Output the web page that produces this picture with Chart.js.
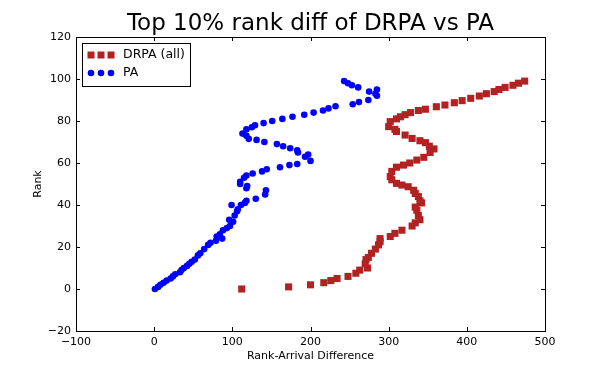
<!DOCTYPE html>
<html>
<head>
<meta charset="utf-8">
<script src="https://cdn.jsdelivr.net/npm/chart.js@4.4.0/dist/chart.umd.min.js"></script>
<style>
  html, body { margin: 0; padding: 0; background: #fff; }
  #wrap { width: 606px; height: 379px; }
</style>
</head>
<body>
<div id="wrap"><canvas id="chart" width="606" height="379"></canvas></div>
<script>
// DRPA (all): rank-arrival difference vs rank
var drpaX = [112, 172, 200, 217, 226, 234, 248, 258, 263, 273, 270, 271, 274, 278, 283, 287, 289, 289,
	302, 308, 317, 330, 334, 340, 338, 336, 334, 342, 340, 338, 334, 332, 325, 317, 310, 304, 302,
	304, 310, 319, 327, 336, 345, 353, 358, 352, 347, 340, 330, 321, 310, 308, 300, 302, 310, 315,
	321, 328, 338, 347, 361, 372, 384, 394, 405, 416, 425, 435, 441, 449, 459, 466, 474];
var drpaY = [0, 1, 2, 3, 4, 5, 6, 7.5, 9, 10, 12, 14, 15, 17, 19, 21, 22.5, 24,
	25, 26.5, 28, 30, 31.5, 33, 35, 37.5, 39, 41, 42, 44, 45.5, 47, 48.7, 49.5, 50.3, 52, 53.5,
	56, 58, 59, 60, 61.4, 62.7, 65, 66.7, 68, 69.7, 70.6, 71.7, 73.3, 75, 76, 77.3, 79.7, 81, 82,
	83, 84, 85, 85.6, 86.8, 87.6, 88.7, 89.7, 90.8, 91.9, 93, 94, 95, 96, 97, 98, 99];

// PA
var paX = [1, 5, 8, 12, 16, 21, 24, 27, 33, 35, 38, 42, 45, 48, 52, 56, 59, 64, 69, 72, 79, 87, 80,
	84, 88, 93, 97, 101, 96, 103, 106, 107, 99, 111, 116, 118, 130, 142, 143, 118, 119, 110, 110,
	115, 118, 126, 138, 144, 161, 173, 183, 200, 193, 197, 184, 183, 174, 165, 157, 141, 131, 121,
	118, 113, 118, 125, 129, 140, 151, 164, 177, 192, 204, 216, 223, 232, 254, 262, 274, 285, 283,
	275, 285, 261, 253, 248, 243];
var paY = [0, 1, 2, 3, 4, 5, 6, 7, 8, 9, 10, 11, 12, 13, 14, 16, 17, 19, 21, 22, 23, 24, 25,
	26, 28, 29, 30, 32, 33, 35, 37, 38, 40, 40, 41, 42, 43, 45, 47, 48, 49, 50, 51,
	53, 54, 55, 56, 57, 58, 59, 59.5, 61, 63, 64, 65, 66, 67, 68, 69, 70, 71, 71.5,
	73, 74, 76, 77, 78, 79, 80, 81, 82, 83, 84, 85, 86, 87, 88, 89, 90, 92, 93,
	94, 95, 96, 97, 98, 99];

var xTicks = [-100, 0, 100, 200, 300, 400, 500];
var yTicks = [-20, 0, 20, 40, 60, 80, 100, 120];

var RED = '#b22222';
var BLUE = '#0000ff';
var FONT = 'DejaVu Sans';

function pts(xs, ys) {
	var out = [];
	for (var i = 0; i < xs.length; i++) out.push({x: xs[i], y: ys[i]});
	return out;
}

// title, axis labels, inward ticks, frame and legend, matplotlib style
var mplDecor = {
	id: 'mplDecor',
	afterDraw: function (chart) {
		var ctx = chart.ctx, a = chart.chartArea;
		var xs = chart.scales.x, ys = chart.scales.y;
		ctx.save();
		ctx.strokeStyle = '#000';
		ctx.lineWidth = 1;
		ctx.beginPath();
		xTicks.forEach(function (v) {
			var p = Math.round(xs.getPixelForValue(v)) + 0.5;
			ctx.moveTo(p, a.bottom); ctx.lineTo(p, a.bottom - 4);
			ctx.moveTo(p, a.top); ctx.lineTo(p, a.top + 4);
		});
		yTicks.forEach(function (v) {
			var p = Math.round(ys.getPixelForValue(v)) + 0.5;
			ctx.moveTo(a.left, p); ctx.lineTo(a.left + 4, p);
			ctx.moveTo(a.right, p); ctx.lineTo(a.right - 4, p);
		});
		ctx.stroke();
		ctx.strokeRect(Math.round(a.left) + 0.5, Math.round(a.top) + 0.5,
			Math.round(a.right - a.left), Math.round(a.bottom - a.top));

		// title
		ctx.fillStyle = '#000';
		ctx.font = '23px "' + FONT + '"';
		ctx.textAlign = 'center';
		ctx.textBaseline = 'alphabetic';
		ctx.fillText('Top 10% rank diff of DRPA vs PA', (a.left + a.right) / 2, a.top - 7);

		// axis labels
		ctx.font = '11px "' + FONT + '"';
		ctx.textBaseline = 'middle';
		ctx.fillText('Rank-Arrival Difference', (a.left + a.right) / 2, 356);
		ctx.save();
		ctx.translate(38, (a.top + a.bottom) / 2);
		ctx.rotate(-Math.PI / 2);
		ctx.fillText('Rank', 0, 0);
		ctx.restore();

		// legend
		var lx = 82, ly = 43, lw = 108, lh = 43;
		ctx.fillStyle = '#fff';
		ctx.fillRect(lx, ly, lw, lh);
		ctx.strokeStyle = '#000';
		ctx.strokeRect(lx + 0.5, ly + 0.5, lw, lh);
		var rows = [
			{label: 'DRPA (all)', color: RED, shape: 'rect', y: ly + 12},
			{label: 'PA', color: BLUE, shape: 'circle', y: ly + 30}
		];
		ctx.font = '12.5px "' + FONT + '"';
		ctx.textAlign = 'left';
		ctx.textBaseline = 'middle';
		rows.forEach(function (r) {
			[91, 101, 111].forEach(function (mx) {
				ctx.fillStyle = r.color;
				if (r.shape === 'rect') {
					ctx.fillRect(mx - 3.5, r.y - 3.5, 7, 7);
				} else {
					ctx.beginPath();
					ctx.arc(mx, r.y, 3.3, 0, Math.PI * 2);
					ctx.fill();
				}
			});
			ctx.fillStyle = '#000';
			ctx.fillText(r.label, 123, r.y);
		});
		ctx.restore();
	}
};

var tickFont = {family: FONT, size: 11};

new Chart(document.getElementById('chart').getContext('2d'), {
	type: 'scatter',
	data: {
		datasets: [{
			label: 'DRPA (all)',
			data: pts(drpaX, drpaY),
			pointStyle: 'rect',
			pointRadius: 5,
			backgroundColor: RED,
			borderColor: RED,
			borderWidth: 0
		}, {
			label: 'PA',
			data: pts(paX, paY),
			pointStyle: 'circle',
			pointRadius: 3.3,
			backgroundColor: BLUE,
			borderColor: BLUE,
			borderWidth: 0
		}]
	},
	plugins: [mplDecor],
	options: {
		responsive: false,
		animation: false,
		events: [],
		layout: {padding: {left: 0, right: 61, top: 37, bottom: 0}},
		plugins: {
			legend: {display: false},
			title: {display: false},
			tooltip: {enabled: false}
		},
		scales: {
			x: {
				type: 'linear',
				min: -100, max: 500,
				afterBuildTicks: function (s) { s.ticks = xTicks.map(function (v) { return {value: v}; }); },
				afterFit: function (s) { s.height = 48; },
				grid: {display: false, drawTicks: false},
				border: {display: false},
				ticks: {
					color: '#000', font: tickFont, padding: 5, maxRotation: 0,
					callback: function (v) { return String(v).replace('-', '\u2212'); }
				}
			},
			y: {
				type: 'linear',
				min: -20, max: 120,
				afterBuildTicks: function (s) { s.ticks = yTicks.map(function (v) { return {value: v}; }); },
				afterFit: function (s) { s.width = 76; },
				grid: {display: false, drawTicks: false},
				border: {display: false},
				ticks: {
					color: '#000', font: tickFont, padding: 5,
					callback: function (v) { return String(v).replace('-', '\u2212'); }
				}
			}
		}
	}
});
</script>
</body>
</html>
